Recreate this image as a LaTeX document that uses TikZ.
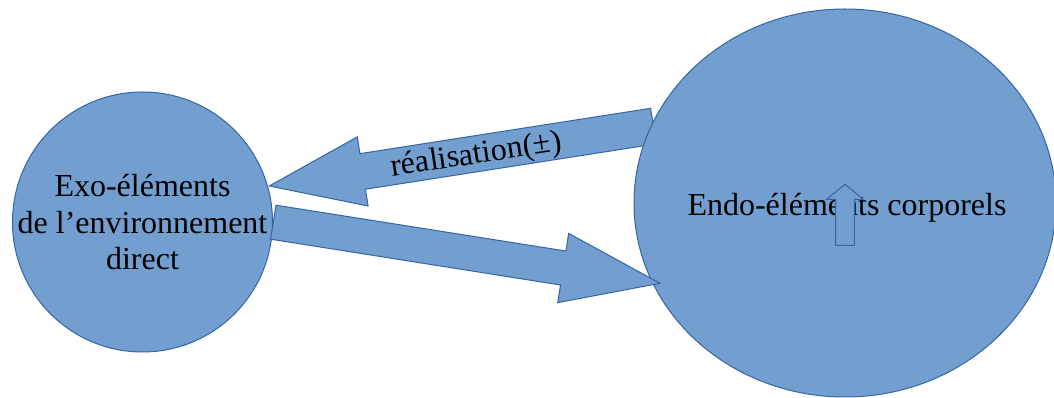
\documentclass[tikz,border=0pt]{standalone}
\usepackage{fontspec}
\setmainfont{Liberation Serif}
\usetikzlibrary{calc,shapes.geometric}
\definecolor{shapefill}{HTML}{729FCF}
\definecolor{shapeline}{HTML}{3465A4}
% #1 name, #2 tail, #3 tip, #4 shaft half-width, #5 head half-width, #6 head length
\newcommand{\blockarrow}[6]{%
  \coordinate (#1-H) at ($(#3)!#6!(#2)$);
  \filldraw[blob] ($(#2)!#4!90:(#3)$) -- ($(#1-H)!#4!-90:(#2)$) -- ($(#1-H)!#5!-90:(#2)$)
    -- (#3) -- ($(#1-H)!#5!90:(#2)$) -- ($(#1-H)!#4!90:(#2)$) -- ($(#2)!#4!-90:(#3)$) -- cycle;}
\begin{document}
\begin{tikzpicture}[x=0.75pt,y=-0.75pt,
  blob/.style={fill=shapefill, draw=shapeline, line width=0.75pt, line join=miter},
  labeltext/.style={font=\fontsize{24}{27.4}\selectfont, text=black, inner sep=0pt}]
\useasboundingbox (0,0) rectangle (1054,398);
\node[blob, circle, minimum size=195pt, inner sep=0pt] (exo) at (142.5,222) {};
\node[labeltext, align=center] (exolabel) at (142.5,222.5) {Exo-éléments\\de l’environnement\\direct};
\coordinate (realtail) at (653.4,126.1);
\coordinate (realtip) at (269.3,186);
\blockarrow{real}{realtail}{realtip}{13.5pt}{26.25pt}{70.9pt}
\node[labeltext, rotate=8.7, anchor=base] (reallabel) at (477.5,163.5) {réalisation(±)};
\node[blob, ellipse, minimum width=316.5pt, minimum height=291pt, inner sep=0pt] (endo) at (845,203) {};
\node[labeltext, anchor=base] (endolabel) at (847,216) {Endo-éléments corporels};
\coordinate (bottail) at (273.3,222.2);
\coordinate (bottip) at (660,283.3);
\blockarrow{bot}{bottail}{bottip}{12.9pt}{26.3pt}{73.5pt}
\coordinate (uptail) at (845,245.3);
\coordinate (uptip) at (845,184.3);
\blockarrow{up}{uptail}{uptip}{7pt}{13.7pt}{11.25pt}
\end{tikzpicture}
\end{document}
